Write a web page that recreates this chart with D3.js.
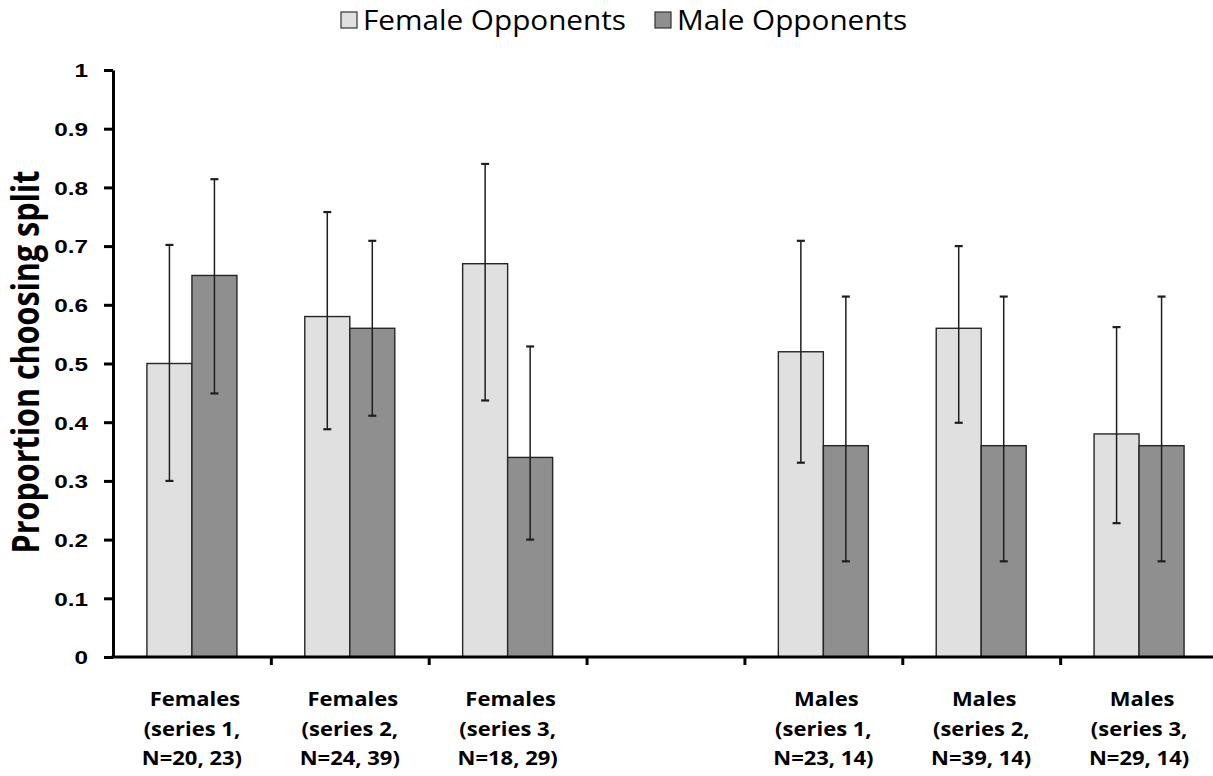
<!DOCTYPE html>
<html>
<head>
<meta charset="utf-8">
<script src="https://cdn.jsdelivr.net/npm/d3@7/dist/d3.min.js"></script>
<style>
  html, body { margin: 0; padding: 0; background: #ffffff; }
  svg { display: block; font-family: "Open Sans", "Noto Sans", sans-serif; }
</style>
</head>
<body>
<svg id="chart" width="1213" height="776"></svg>
<script>
// Groups along the x axis; the empty slot separates the female and male subjects.
const groups = ["F1", "F2", "F3", "gap", "M1", "M2", "M3"];
const groupLabels = [
  ["Females", "(series 1,", "N=20, 23)"],
  ["Females", "(series 2,", "N=24, 39)"],
  ["Females", "(series 3,", "N=18, 29)"],
  [],
  ["Males", "(series 1,", "N=23, 14)"],
  ["Males", "(series 2,", "N=39, 14)"],
  ["Males", "(series 3,", "N=29, 14)"]
];
const seriesNames = ["Female Opponents", "Male Opponents"];

// Proportion choosing split, with lower / upper confidence limits
const femaleOpp     = [0.50, 0.58, 0.67, null, 0.52, 0.56, 0.38];
const femaleOppLow  = [0.30, 0.388, 0.437, null, 0.331, 0.399, 0.228];
const femaleOppHigh = [0.702, 0.758, 0.840, null, 0.709, 0.700, 0.562];
const maleOpp       = [0.65, 0.56, 0.34, null, 0.36, 0.36, 0.36];
const maleOppLow    = [0.449, 0.411, 0.200, null, 0.163, 0.163, 0.163];
const maleOppHigh   = [0.814, 0.709, 0.529, null, 0.614, 0.614, 0.614];

const yTicks = [0, 0.1, 0.2, 0.3, 0.4, 0.5, 0.6, 0.7, 0.8, 0.9, 1];
const yTickLabels = ["0", "0.1", "0.2", "0.3", "0.4", "0.5", "0.6", "0.7", "0.8", "0.9", "1"];
const yTitle = "Proportion choosing split";

const colors = { "Female Opponents": "#e0e0e0", "Male Opponents": "#8f8f8f" };

const svg = d3.select("#chart");
const plot = { left: 113, right: 1218, top: 70, bottom: 657 };

const y = d3.scaleLinear().domain([0, 1]).range([plot.bottom, plot.top]);
const x0 = d3.scaleBand().domain(groups).range([plot.left, plot.right]).paddingInner(0).paddingOuter(0);
const x1 = d3.scaleBand().domain(seriesNames).range([0, x0.bandwidth()]).paddingInner(0).paddingOuter(0.754);

// Text in this chart uses a slightly widened face
function wideText(sel, x, y, sx) {
  return sel.attr("x", 0).attr("y", 0).attr("transform", `translate(${x},${y}) scale(${sx},1)`);
}

// Flatten into one record per bar
const rows = [];
groups.forEach((g, i) => {
  if (femaleOpp[i] === null) return;
  rows.push({ g, s: seriesNames[0], v: femaleOpp[i], lo: femaleOppLow[i], hi: femaleOppHigh[i] });
  rows.push({ g, s: seriesNames[1], v: maleOpp[i], lo: maleOppLow[i], hi: maleOppHigh[i] });
});

// Bars
svg.append("g").selectAll("rect").data(rows).join("rect")
  .attr("x", d => x0(d.g) + x1(d.s))
  .attr("y", d => y(d.v))
  .attr("width", x1.bandwidth())
  .attr("height", d => y(0) - y(d.v))
  .attr("fill", d => colors[d.s])
  .attr("stroke", "#262626")
  .attr("stroke-width", 1.4);

// Error bars
const eb = svg.append("g").attr("stroke", "#1e1e1e").attr("stroke-width", 1.5);
const cx = d => x0(d.g) + x1(d.s) + x1.bandwidth() / 2;
eb.selectAll("line.v").data(rows).join("line").attr("class", "v")
  .attr("x1", cx).attr("x2", cx).attr("y1", d => y(d.lo)).attr("y2", d => y(d.hi));
eb.selectAll("line.hi").data(rows).join("line").attr("class", "hi")
  .attr("x1", d => cx(d) - 4).attr("x2", d => cx(d) + 4).attr("y1", d => y(d.hi)).attr("y2", d => y(d.hi))
  .attr("stroke-width", 2.2);
eb.selectAll("line.lo").data(rows).join("line").attr("class", "lo")
  .attr("x1", d => cx(d) - 4).attr("x2", d => cx(d) + 4).attr("y1", d => y(d.lo)).attr("y2", d => y(d.lo))
  .attr("stroke-width", 2.2);

// Y axis
const yAxis = svg.append("g").attr("transform", `translate(${plot.left},0)`)
  .call(d3.axisLeft(y).tickValues(yTicks).tickFormat((d, i) => yTickLabels[i]).tickSize(9).tickSizeOuter(0).tickPadding(16));
yAxis.select(".domain").attr("stroke", "#000").attr("stroke-width", 3);
yAxis.selectAll(".tick line").attr("stroke", "#000").attr("stroke-width", 3);
yAxis.selectAll(".tick text").attr("fill", "#000").style("font-size", "19px").style("font-weight", 700)
  .attr("dy", "0.36em")
  .each(function () { wideText(d3.select(this), -25, 0, 1.28); });

// X axis: ticks at the group boundaries
const xEdge = d3.scaleLinear().domain([0, groups.length]).range([plot.left, plot.right]);
const xAxis = svg.append("g").attr("transform", `translate(0,${plot.bottom})`)
  .call(d3.axisBottom(xEdge).tickValues(d3.range(1, groups.length + 1)).tickFormat("").tickSize(8).tickSizeOuter(0));
xAxis.select(".domain").attr("stroke", "#000").attr("stroke-width", 3)
  .attr("d", `M${plot.left - 1.5},0H${plot.right}`);
xAxis.selectAll(".tick line").attr("stroke", "#000").attr("stroke-width", 3);

// Group labels
const lbl = svg.append("g").style("font-size", "20px").style("font-weight", 700).attr("fill", "#000")
  .attr("text-anchor", "middle");
groups.forEach((g, i) => {
  groupLabels[i].forEach((line, j) => {
    wideText(lbl.append("text"), x0(g) + x0.bandwidth() / 2 + (j === 0 ? 3 : 0), 706 + j * 29.5, 1.1)
      .text(line);
  });
});

// Y axis title
svg.append("text")
  .attr("transform", `translate(39,362) scale(1.22,1) rotate(-90)`)
  .attr("text-anchor", "middle")
  .style("font-size", "30.5px").style("font-weight", 700).attr("fill", "#000")
  .text(yTitle);

// Legend
const legendX = [341, 655];
const legend = svg.append("g");
seriesNames.forEach((s, i) => {
  legend.append("rect").attr("x", legendX[i]).attr("y", 12).attr("width", 16).attr("height", 16)
    .attr("fill", colors[s]).attr("stroke", "#333").attr("stroke-width", 1.2);
  wideText(legend.append("text"), legendX[i] + 22, 30, 1.1)
    .style("font-size", "27px").attr("fill", "#000").text(s);
});
</script>
</body>
</html>
